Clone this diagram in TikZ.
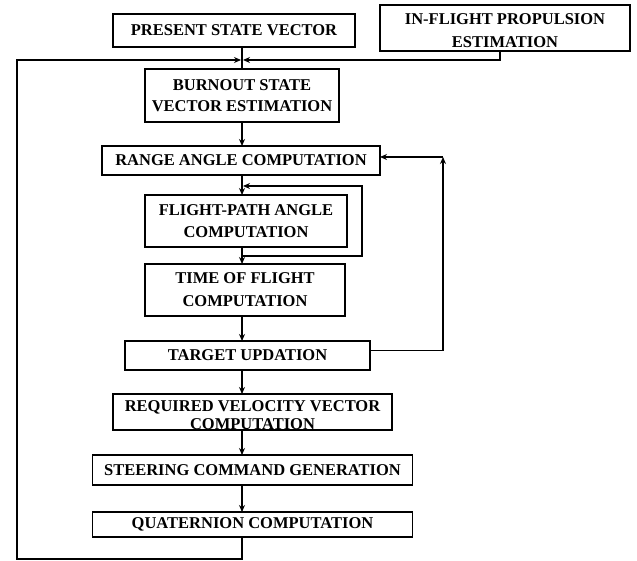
\documentclass[tikz,border=0pt]{standalone}
\usepackage{fontspec}
\setmainfont{Liberation Serif}
\usetikzlibrary{positioning,arrows.meta}

\newcommand{\lowtext}[2]{\raisebox{-#1}[\height][\depth]{\begin{tabular}{@{}c@{}}#2\end{tabular}}}

\tikzset{
  blk/.style={draw, line width=1.7pt, align=center, inner sep=0pt, outer sep=0pt,
    font=\fontsize{16.5}{21}\selectfont\bfseries},
  wire/.style={line width=1.4pt},
  flow/.style={wire, -{Stealth[length=7pt,width=6pt]}},
}

\begin{document}
\begin{tikzpicture}[x=1pt,y=-1pt]
    \useasboundingbox (0,0) rectangle (637,561);
    % main column
    \node[blk, minimum width=242pt, minimum height=33pt] (present) at (234,30.5) {PRESENT STATE VECTOR};
    \node[blk, minimum width=250pt, minimum height=44pt, right=25pt of present, yshift=2.5pt,
      font=\fontsize{16.5}{23}\selectfont\bfseries] (inflight) {\lowtext{3pt}{IN-FLIGHT PROPULSION\\ESTIMATION}};
    \node[blk, minimum width=194pt, minimum height=53pt, below=22pt of present, xshift=8pt] (burnout) {BURNOUT STATE\\VECTOR ESTIMATION};
    \node[blk, minimum width=278pt, minimum height=29pt, below=24pt of burnout, xshift=-1pt] (range) {RANGE ANGLE COMPUTATION};
    \node[blk, minimum width=202pt, minimum height=52pt, below=20pt of range, xshift=5pt,
      font=\fontsize{16.5}{22}\selectfont\bfseries] (flight) {FLIGHT-PATH ANGLE\\COMPUTATION};
    \node[blk, minimum width=200pt, minimum height=52pt, below=17pt of flight, xshift=-1pt,
      font=\fontsize{16.5}{23}\selectfont\bfseries] (time) {TIME OF FLIGHT\\COMPUTATION};
    \node[blk, minimum width=245pt, minimum height=29pt, below=25pt of time, xshift=2.5pt] (target) {TARGET UPDATION};
    \node[blk, minimum width=279pt, minimum height=36pt, below=24pt of target, xshift=5pt,
      font=\fontsize{16.5}{18}\selectfont\bfseries] (required)
      {\lowtext{5pt}{REQUIRED VELOCITY VECTOR\\COMPUTATION}};
    \node[blk, minimum width=320pt, minimum height=30pt, below=25pt of required] (steering) {STEERING COMMAND GENERATION};
    \node[blk, minimum width=320pt, minimum height=25pt, below=27pt of steering] (quaternion) {QUATERNION COMPUTATION};

    % junctions and corners
    \coordinate (jn) at (burnout.north |- 0,60);
    \coordinate (lcorner) at (17,559);
    \coordinate (fbot) at (jn |- 0,256);
    \coordinate (ftop) at (jn |- 0,186);
    \coordinate (rcorner) at (443,157);

    \draw[wire] (present.south -| jn) -- (burnout.north);
    \draw[flow] ([xshift=-5pt]inflight.south) |- ([xshift=1pt]jn);
    \draw[flow] (quaternion.south -| jn) |- (lcorner) |- ([xshift=-1pt]jn);

    \foreach \a/\b in {burnout/range, range/flight, flight/time, time/target,
                       target/required, required/steering, steering/quaternion}
      \draw[flow] (\a.south -| jn) -- (\b.north -| jn);

    % inner loop
    \draw[flow] (fbot) -- (fbot -| 362,0) |- ([xshift=1pt]ftop);
    % outer loop
    \draw[flow] ([yshift=5pt]target.east) -| (rcorner);
    \draw[flow] (rcorner) -- (range.east |- rcorner);
\end{tikzpicture}
\end{document}
